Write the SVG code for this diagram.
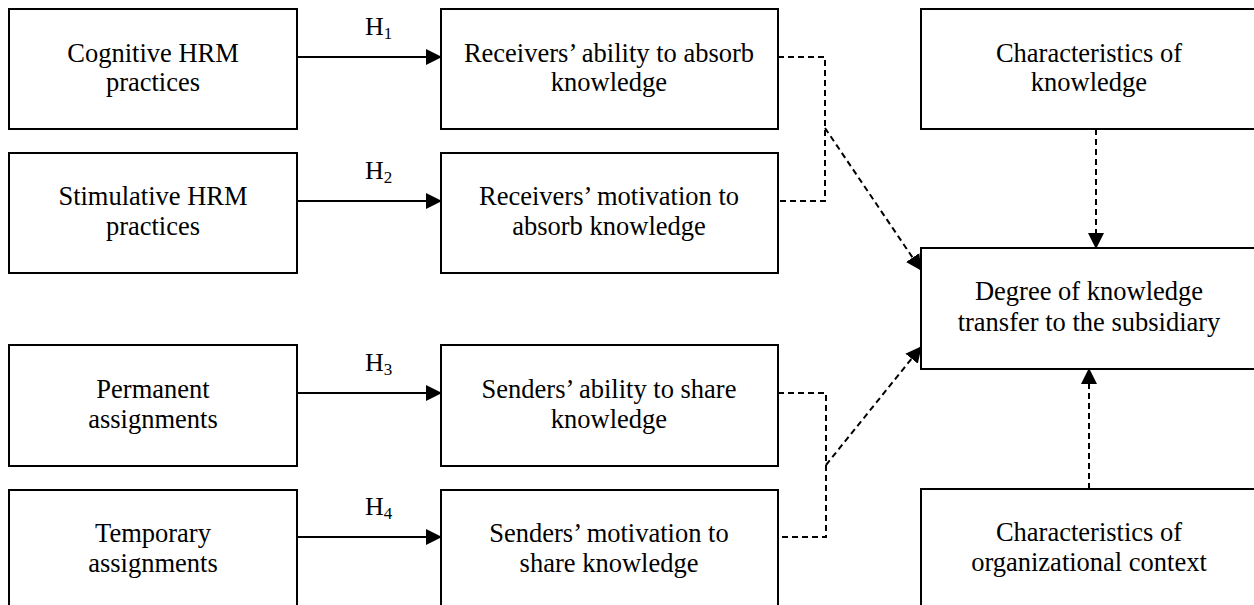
<svg xmlns="http://www.w3.org/2000/svg" width="1254" height="605" viewBox="0 0 1254 605">
<style>
.box{fill:#fff;stroke:#000;stroke-width:2}
.t{font-family:"Liberation Serif","Times New Roman",serif;font-size:26.5px;fill:#000;text-anchor:middle}
.h{font-family:"Liberation Serif","Times New Roman",serif;font-size:26px;fill:#000}
.sub{font-size:17px}
.solid{fill:none;stroke:#000;stroke-width:2}
.dash{fill:none;stroke:#000;stroke-width:2;stroke-dasharray:6 4}
</style>
<defs>
<marker id="ah" markerWidth="16" markerHeight="16" refX="15" refY="8" orient="auto" markerUnits="userSpaceOnUse">
<path d="M0,0 L16,8 L0,16 Z" fill="#000"/>
</marker>
</defs>
<rect width="1254" height="605" fill="#fff"/>
<g id="cognitive"><rect class="box" x="9" y="9" width="288" height="120"/><text class="t" x="153" y="62">Cognitive HRM</text><text class="t" x="153" y="91">practices</text></g>
<g id="stimulative"><rect class="box" x="9" y="153" width="288" height="120"/><text class="t" x="153" y="205">Stimulative HRM</text><text class="t" x="153" y="235">practices</text></g>
<g id="permanent"><rect class="box" x="9" y="345" width="288" height="121"/><text class="t" x="153" y="398">Permanent</text><text class="t" x="153" y="428">assignments</text></g>
<g id="temporary"><rect class="box" x="9" y="490" width="288" height="130"/><text class="t" x="153" y="542">Temporary</text><text class="t" x="153" y="572">assignments</text></g>
<g id="recv-ability"><rect class="box" x="441" y="9" width="337" height="120"/><text class="t" x="609" y="62">Receivers’ ability to absorb</text><text class="t" x="609" y="91">knowledge</text></g>
<g id="recv-motivation"><rect class="box" x="441" y="153" width="337" height="120"/><text class="t" x="609" y="205">Receivers’ motivation to</text><text class="t" x="609" y="235">absorb knowledge</text></g>
<g id="send-ability"><rect class="box" x="441" y="345" width="337" height="121"/><text class="t" x="609" y="398">Senders’ ability to share</text><text class="t" x="609" y="428">knowledge</text></g>
<g id="send-motivation"><rect class="box" x="441" y="490" width="337" height="130"/><text class="t" x="609" y="542">Senders’ motivation to</text><text class="t" x="609" y="572">share knowledge</text></g>
<g id="char-knowledge"><rect class="box" x="921" y="9" width="350" height="120"/><text class="t" x="1089" y="62">Characteristics of</text><text class="t" x="1089" y="91">knowledge</text></g>
<g id="degree"><rect class="box" x="921" y="248" width="350" height="121"/><text class="t" x="1089" y="300">Degree of knowledge</text><text class="t" x="1089" y="331">transfer to the subsidiary</text></g>
<g id="char-org"><rect class="box" x="921" y="489" width="350" height="130"/><text class="t" x="1089" y="541">Characteristics of</text><text class="t" x="1089" y="571">organizational context</text></g>
<g id="connectors">
<line class="solid" x1="297" y1="57" x2="441" y2="57" marker-end="url(#ah)"/>
<line class="solid" x1="297" y1="201" x2="441" y2="201" marker-end="url(#ah)"/>
<line class="solid" x1="297" y1="393" x2="441" y2="393" marker-end="url(#ah)"/>
<line class="solid" x1="297" y1="537" x2="441" y2="537" marker-end="url(#ah)"/>
<text class="h" x="365" y="35">H<tspan class="sub" dy="4">1</tspan></text>
<text class="h" x="365" y="179">H<tspan class="sub" dy="4">2</tspan></text>
<text class="h" x="365" y="371">H<tspan class="sub" dy="4">3</tspan></text>
<text class="h" x="365" y="515">H<tspan class="sub" dy="4">4</tspan></text>
<polyline class="dash" points="778,57 825,57 825,201 778,201"/>
<polyline class="dash" points="778,393 826,393 826,537 778,537"/>
<line class="dash" x1="825" y1="128" x2="921" y2="270" marker-end="url(#ah)"/>
<line class="dash" x1="826" y1="465" x2="921" y2="347" marker-end="url(#ah)"/>
<line class="dash" x1="1096" y1="129" x2="1096" y2="248" marker-end="url(#ah)"/>
<line class="dash" x1="1089" y1="489" x2="1089" y2="369" marker-end="url(#ah)"/>
</g>
</svg>
